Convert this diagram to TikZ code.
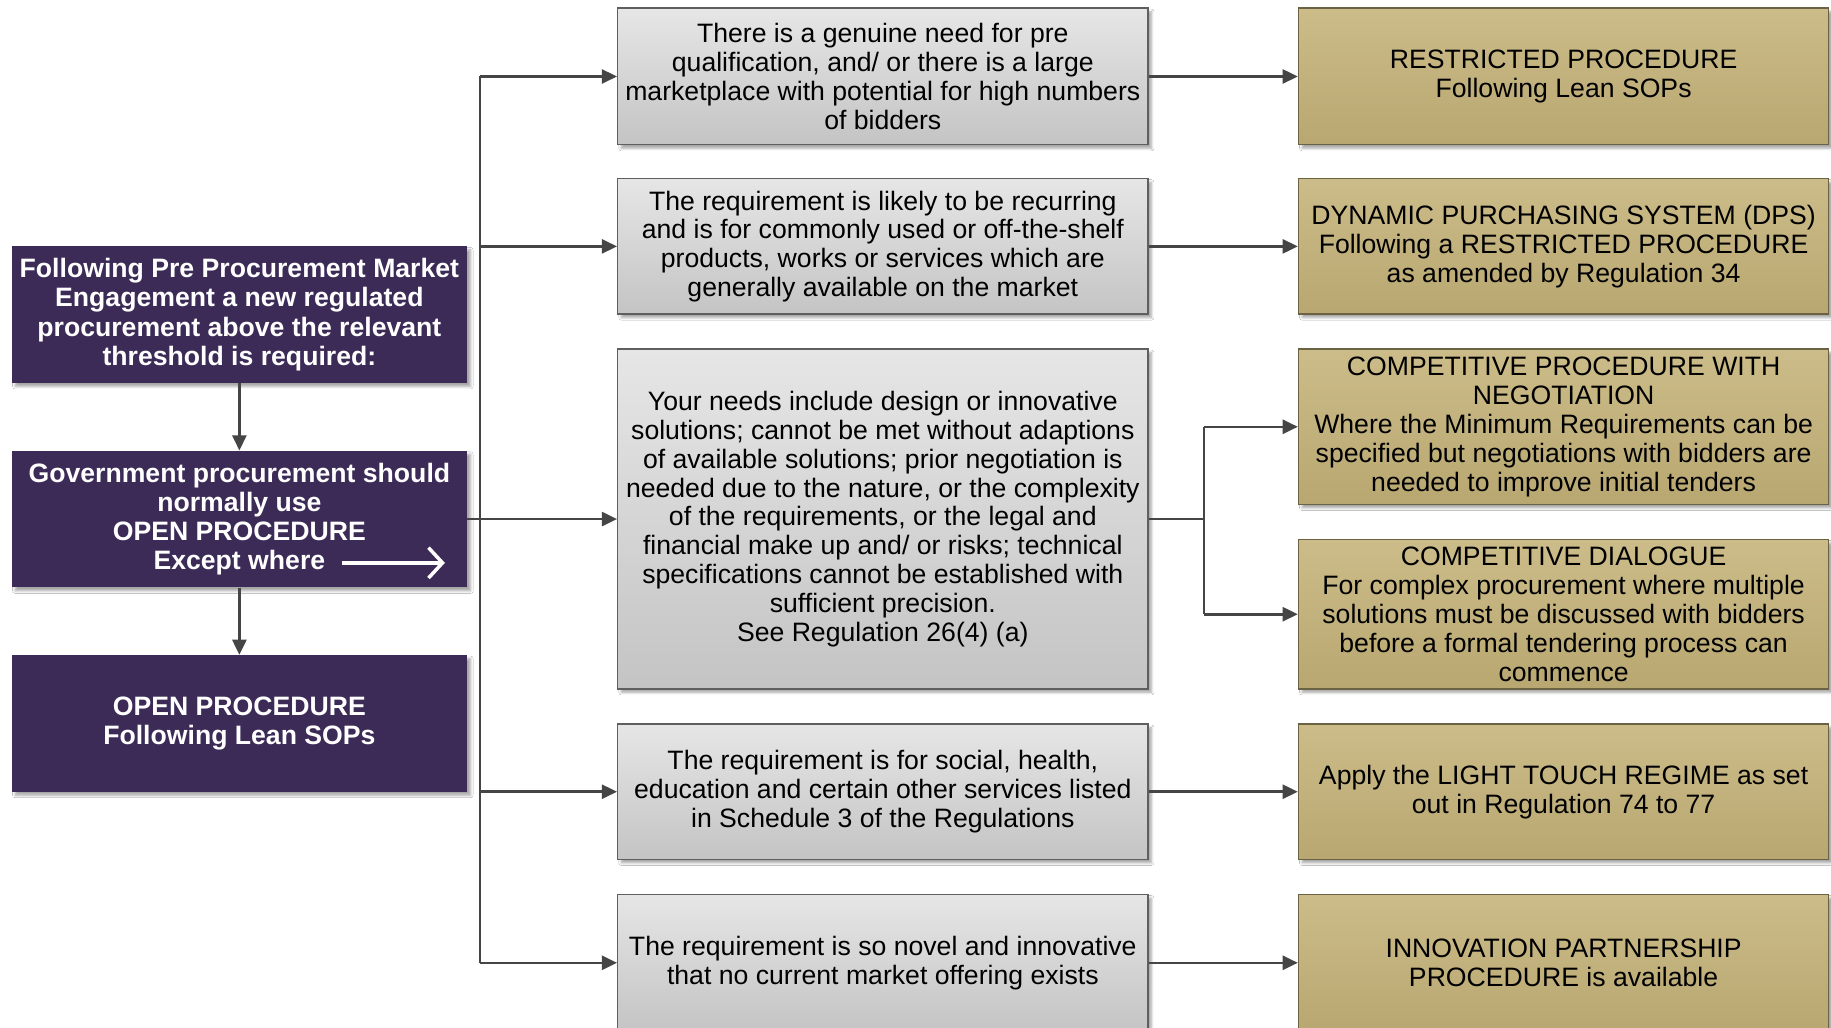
\documentclass[tikz,border=0pt]{standalone}
\usepackage{fontspec}
\setmainfont{Liberation Sans}
\usetikzlibrary{arrows.meta,shadows.blur}
\definecolor{purp}{HTML}{3C2B57}
\definecolor{grayT}{HTML}{E6E6E6}
\definecolor{grayB}{HTML}{C4C4C4}
\definecolor{goldT}{HTML}{CCBC89}
\definecolor{goldB}{HTML}{B8A770}
\definecolor{conn}{HTML}{454545}
\definecolor{gborder}{HTML}{5F5F5F}
\definecolor{yborder}{HTML}{6B6244}
\tikzset{
 boxbase/.style={rectangle, inner sep=0pt, align=center,
   font=\fontsize{22.8pt}{24.7pt}\selectfont,
   blur shadow={shadow xshift=3pt, shadow yshift=-3pt, shadow blur steps=6, shadow opacity=35}},
 purpbox/.style={boxbase, fill=purp, text=white, minimum width=390pt, minimum height=117pt,
   font=\fontsize{22.8pt}{25pt}\selectfont\bfseries},
 graybox/.style={boxbase, draw=gborder, line width=1.2pt, top color=grayT, bottom color=grayB,
   text=black, minimum width=454pt},
 goldbox/.style={boxbase, draw=yborder, line width=1.2pt, top color=goldT, bottom color=goldB,
   text=black, minimum width=454pt},
 wire/.style={draw=conn, line width=2.2pt},
 arr/.style={wire, -{Triangle[length=13pt,width=12pt]}},
 whitearr/.style={draw=white, line width=3pt, -{Straight Barb[length=12pt,width=26pt,line width=3pt]}},
}
\begin{document}
\begin{tikzpicture}[x=1pt,y=-1pt]
\useasboundingbox (0,0) rectangle (1568,880);
\fill[white] (0,0) rectangle (1568,880);
\clip (0,0) rectangle (1568,880);

% left column
\node[purpbox] (P1) at (205,269.5) {Following Pre Procurement Market\\Engagement a new regulated\\procurement above the relevant\\threshold is required:};
\node[purpbox] (P2) at (205,444.5) {Government procurement should\\normally use\\OPEN PROCEDURE\\Except where};
\node[purpbox] (P3) at (205,619.5) {OPEN PROCEDURE\\Following Lean SOPs};

% middle column
\node[graybox, minimum height=117pt] (G1) at (756,65.5) {There is a genuine need for pre\\qualification, and/ or there is a large\\marketplace with potential for high numbers\\of bidders};
\node[graybox, minimum height=116pt] (G2) at (756,211) {The requirement is likely to be recurring\\and is for commonly used or off-the-shelf\\products, works or services which are\\generally available on the market};
\node[graybox, minimum height=291pt] (G3) at (756,444.5) {Your needs include design or innovative\\solutions; cannot be met without adaptions\\of available solutions; prior negotiation is\\needed due to the nature, or the complexity\\of the requirements, or the legal and\\financial make up and/ or risks; technical\\specifications cannot be established with\\sufficient precision.\\See Regulation 26(4) (a)};
\node[graybox, minimum height=116pt] (G4) at (756,678) {The requirement is for social, health,\\education and certain other services listed\\in Schedule 3 of the Regulations};
\node[graybox, minimum height=117pt] (G5) at (756,824.5) {The requirement is so novel and innovative\\that no current market offering exists};

% right column
\node[goldbox, minimum height=117pt] (Y1) at (1339,65.5) {RESTRICTED PROCEDURE\\Following Lean SOPs};
\node[goldbox, minimum height=116pt] (Y2) at (1339,211) {DYNAMIC PURCHASING SYSTEM (DPS)\\Following a RESTRICTED PROCEDURE\\as amended by Regulation 34};
\node[goldbox, minimum height=133pt] (Y3) at (1339,365.5) {COMPETITIVE PROCEDURE WITH\\NEGOTIATION\\Where the Minimum Requirements can be\\specified but negotiations with bidders are\\needed to improve initial tenders};
\node[goldbox, minimum height=128pt] (Y4) at (1339,526) {COMPETITIVE DIALOGUE\\For complex procurement where multiple\\solutions must be discussed with bidders\\before a formal tendering process can\\commence};
\node[goldbox, minimum height=116pt] (Y5) at (1339,678) {Apply the LIGHT TOUCH REGIME as set\\out in Regulation 74 to 77};
\node[goldbox, minimum height=117pt] (Y6) at (1339,824.5) {INNOVATION PARTNERSHIP\\PROCEDURE is available};

% white arrow inside P2
\coordinate (ew1) at (293,482);
\coordinate (ew2) at (381,482);
\draw[whitearr] (ew1) -- (ew2);

% vertical flow on the left
\draw[arr] (P1.south) -- (P2.north);
\draw[arr] (P2.south) -- (P3.north);

% trunk
\coordinate (tx) at (411,0);
\draw[wire] (tx |- G1.west) -- (tx |- G5.west);
\draw[wire] (P2.east) -- (tx |- P2.east);
\draw[arr] (tx |- G1.west) -- (G1.west);
\draw[arr] (tx |- G2.west) -- (G2.west);
\draw[arr] (tx |- G3.west) -- (G3.west);
\draw[arr] (tx |- G4.west) -- (G4.west);
\draw[arr] (tx |- G5.west) -- (G5.west);

% middle to right
\draw[arr] (G1.east) -- (Y1.west);
\draw[arr] (G2.east) -- (Y2.west);
\draw[arr] (G4.east) -- (Y5.west);
\draw[arr] (G5.east) -- (Y6.west);
\coordinate (jx) at (1031,0);
\draw[wire] (G3.east) -- (jx |- G3.east);
\draw[wire] (jx |- Y3.west) -- (jx |- Y4.west);
\draw[arr] (jx |- Y3.west) -- (Y3.west);
\draw[arr] (jx |- Y4.west) -- (Y4.west);
\end{tikzpicture}
\end{document}
